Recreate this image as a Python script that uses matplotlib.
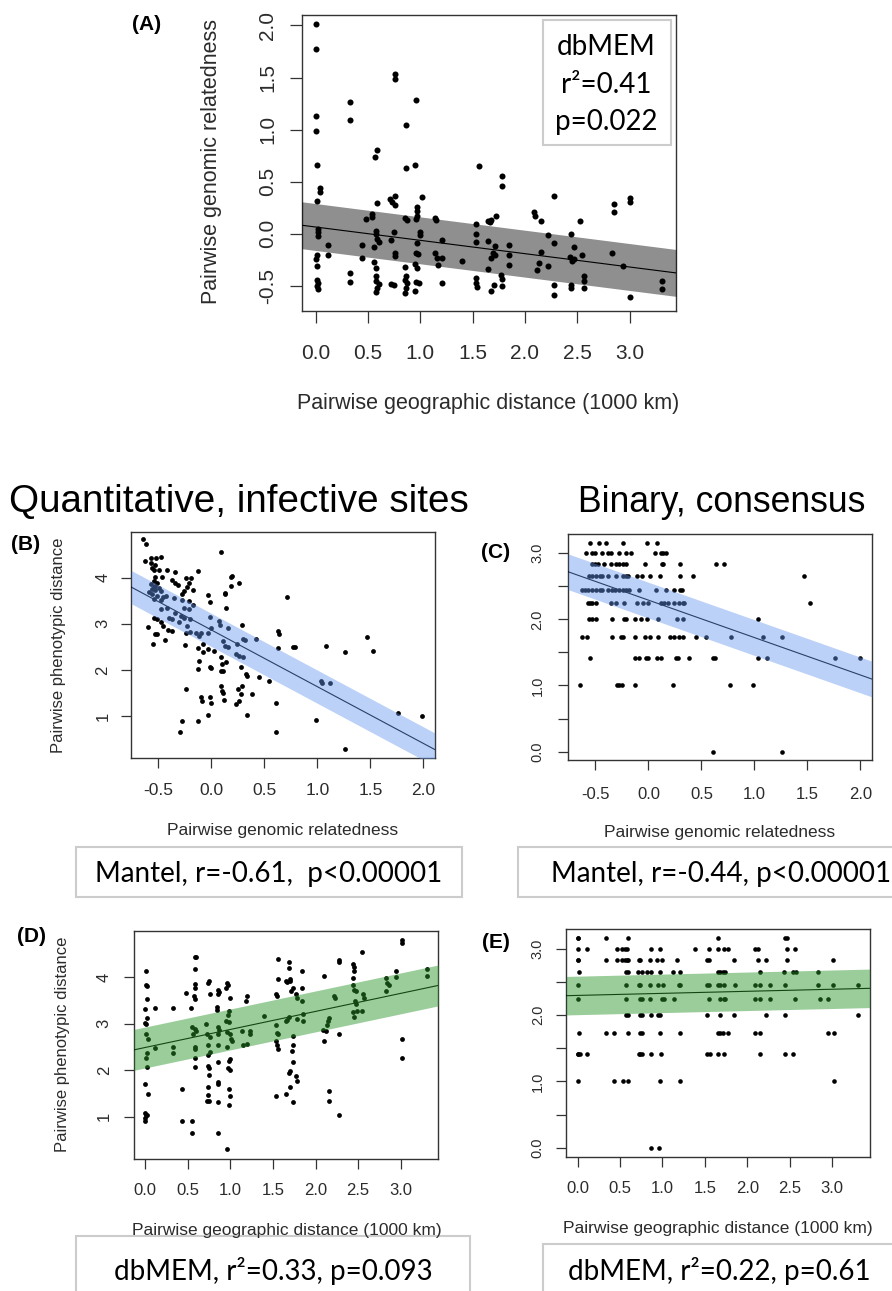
import numpy as np
import matplotlib
matplotlib.use('Agg')
import matplotlib.pyplot as plt
from matplotlib.patches import Rectangle

plt.rcParams['font.family'] = ['Liberation Sans', 'DejaVu Sans']
plt.rcParams['axes.unicode_minus'] = False

W, H = 892, 1291

# ---- panel A: geographic distance vs genomic relatedness
a_x = [0.00, 0.00, 0.00, 0.00, 0.01, 0.04, 0.04, 0.01, 0.02, 0.02, 0.02, 0.12, 0.12, 0.01, 0.00, 0.01,
       0.01, 0.02, 0.01, 0.02, 0.33, 0.33, 0.33, 0.33, 0.44, 0.44, 0.48, 0.54, 0.54, 0.57, 0.59, 0.59,
       0.58, 0.58, 0.59, 0.61, 0.56, 0.56, 0.58, 0.58, 0.58, 0.61, 0.59, 0.58, 0.71, 0.73, 0.76, 0.76,
       0.76, 0.76, 0.75, 0.72, 0.76, 0.76, 0.72, 0.75, 0.86, 0.86, 0.85, 0.87, 0.96, 0.95, 0.97, 0.97,
       0.97, 0.96, 1.02, 1.00, 1.00, 0.97, 0.96, 0.98, 0.95, 0.97, 0.85, 0.86, 0.85, 0.87, 0.86, 0.85,
       0.96, 0.99, 0.95, 1.14, 1.15, 1.21, 1.14, 1.16, 1.21, 1.17, 1.21, 1.40, 1.56, 1.53, 1.53, 1.53,
       1.53, 1.53, 1.54, 1.65, 1.68, 1.67, 1.72, 1.65, 1.71, 1.69, 1.68, 1.71, 1.65, 1.70, 1.68, 1.78,
       1.78, 1.77, 1.78, 1.78, 1.85, 1.85, 1.85, 2.09, 2.10, 2.15, 2.15, 2.13, 2.11, 2.22, 2.28, 2.28,
       2.22, 2.28, 2.28, 2.44, 2.47, 2.43, 2.47, 2.45, 2.53, 2.54, 2.44, 2.44, 2.56, 2.56, 2.56, 2.85,
       2.85, 2.83, 2.94, 3.00, 3.00, 3.00, 3.31, 3.31]
a_y = [2.01, 1.77, 1.13, 0.99, 0.66, 0.44, 0.40, 0.32, 0.05, 0.02, -0.02, -0.11, -0.20, -0.20, -0.24, -0.31,
       -0.44, -0.47, -0.50, -0.53, 1.27, 1.09, -0.38, -0.46, -0.11, -0.23, 0.14, 0.19, 0.16, 0.74, 0.80, 0.30,
       0.03, 0.00, -0.05, -0.08, -0.13, -0.27, -0.33, -0.40, -0.45, -0.48, -0.52, -0.56, 0.33, 0.31, 1.53, 1.49,
       0.36, 0.28, 0.02, -0.06, -0.18, -0.21, -0.48, -0.49, 1.04, 0.63, 0.15, 0.13, 1.28, 0.66, 0.26, 0.22,
       0.17, 0.14, 0.35, 0.02, -0.01, -0.09, -0.18, -0.19, -0.29, -0.33, -0.32, -0.40, -0.44, -0.47, -0.52, -0.57,
       -0.46, -0.47, -0.55, 0.15, 0.13, -0.06, -0.18, -0.23, -0.23, -0.30, -0.47, -0.26, 0.65, 0.09, 0.00, -0.08,
       -0.42, -0.47, -0.51, 0.12, 0.13, 0.11, 0.17, -0.07, -0.12, -0.18, -0.23, -0.20, -0.34, -0.49, -0.55, 0.56,
       0.46, -0.39, -0.43, -0.50, -0.11, -0.20, -0.30, 0.21, 0.17, 0.12, -0.17, -0.28, -0.35, -0.01, 0.36, -0.09,
       -0.31, -0.49, -0.59, 0.00, -0.13, -0.22, -0.24, -0.26, 0.12, -0.20, -0.49, -0.52, -0.40, -0.45, -0.52, 0.29,
       0.21, -0.18, -0.31, 0.34, 0.31, -0.61, -0.45, -0.53]
a_fit = (0.066, -0.128, 0.225)   # intercept, slope, band half width

# ---- panel B: genomic relatedness vs phenotypic distance (quantitative)
b_x = [-0.65, -0.62, -0.63, -0.57, -0.52, -0.48, -0.57, -0.53, -0.56, -0.54, -0.49, -0.42, -0.34, -0.13,
       -0.53, -0.47, -0.54, -0.51, -0.53, -0.37, -0.34, -0.32, -0.24, -0.19, -0.21, -0.23, -0.26, -0.17,
       -0.28, 0.09, 0.18, 0.19, 0.18, 0.26, 0.13, 0.13, -0.03, -0.01, 0.14, 0.71, -0.57, -0.54, -0.49,
       -0.56, -0.53, -0.48, -0.59, -0.56, -0.51, -0.46, -0.54, -0.48, -0.43, -0.35, -0.28, -0.21, -0.17,
       -0.26, -0.21, -0.34, -0.29, -0.42, -0.48, -0.40, -0.37, -0.31, -0.26, -0.20, -0.23, -0.60, -0.54,
       -0.51, -0.48, -0.46, -0.53, -0.51, -0.55, -0.44, -0.41, -0.37, -0.24, -0.20, -0.15, -0.10, -0.25,
       -0.12, -0.08, -0.03, 0.00, -0.01, 0.07, 0.08, 0.16, 0.24, 0.11, 0.13, 0.16, 0.23, 0.26, 0.30, 0.30,
       0.32, 0.42, 0.29, -0.13, -0.08, -0.12, -0.13, -0.03, 0.02, -0.01, 0.00, 0.09, 0.10, 0.14, 0.11,
       0.09, 0.28, 0.33, 0.34, 0.45, 0.54, 0.63, 0.64, 0.63, 0.77, 0.79, 1.08, 1.26, 1.47, 1.52, 1.03,
       1.04, 1.12, -0.24, -0.10, -0.09, -0.01, 0.00, -0.03, 0.09, 0.10, 0.11, 0.12, 0.25, 0.29, 0.28,
       0.26, 0.23, 0.38, 0.34, 0.61, -0.28, -0.13, -0.30, 0.61, 0.99, 1.26, 1.76, 1.99]
b_y = [4.83, 4.74, 4.36, 4.43, 4.42, 4.45, 4.32, 4.27, 4.22, 4.16, 4.16, 4.17, 4.13, 4.14,
       4.01, 4.01, 3.93, 3.89, 3.82, 3.94, 3.89, 3.84, 3.99, 3.99, 3.89, 3.80, 3.71, 3.73,
       3.64, 4.56, 4.01, 4.04, 3.81, 3.89, 3.67, 3.64, 3.62, 3.48, 3.34, 3.59, 3.86, 3.80, 3.78,
       3.75, 3.73, 3.71, 3.68, 3.64, 3.60, 3.57, 3.53, 3.51, 3.60, 3.55, 3.51, 3.49, 3.41,
       3.35, 3.31, 3.24, 3.17, 3.35, 3.31, 3.13, 3.10, 3.03, 3.13, 3.10, 2.95, 2.94, 3.13,
       3.11, 3.03, 2.95, 2.77, 2.77, 2.57, 2.64, 2.87, 2.85, 2.79, 2.83, 2.79, 2.81, 2.54,
       2.74, 2.57, 2.80, 2.90, 3.15, 3.05, 2.98, 2.90, 2.56, 2.63, 2.52, 2.50, 2.34, 2.30, 2.27, 2.68,
       2.65, 2.67, 2.98, 2.47, 2.38, 2.20, 2.02, 2.45, 2.41, 2.07, 2.04, 2.27, 2.12, 2.18, 1.98,
       1.97, 2.07, 1.91, 1.87, 1.85, 1.76, 2.85, 2.77, 2.47, 2.50, 2.50, 2.52, 2.38, 2.72, 2.40, 1.75,
       1.71, 1.71, 1.58, 1.42, 1.32, 1.42, 1.29, 1.03, 1.66, 1.55, 1.50, 1.34, 1.58, 1.66, 1.47,
       1.32, 1.26, 1.47, 1.03, 1.29, 0.90, 0.90, 0.65, 0.65, 0.91, 0.28, 1.07, 1.00]
b_fit = (2.865, -1.23, 0.36)

# ---- binary phenotype levels (panels C and E)
bin_levels = [3.16, 3.00, 2.83, 2.65, 2.45, 2.24, 2.00, 1.73, 1.41, 1.00, 0.00]

# panel C: genomic relatedness at each level
c_x_levels = [
    [-0.55, -0.47, -0.40, -0.24, -0.01, 0.08],
    [-0.59, -0.53, -0.50, -0.44, -0.38, -0.35, -0.28, -0.21, -0.16, 0.06, 0.12, 0.14, 0.17],
    [-0.53, -0.50, -0.48, -0.42, -0.35, -0.31, -0.28, -0.24, -0.21, -0.03, 0.13, 0.14, 0.30, 0.64, 0.71],
    [-0.56, -0.53, -0.49, -0.46, -0.44, -0.38, -0.31, -0.24, -0.21, -0.19, -0.11, -0.06, 0.01, 0.11,
     0.30, 0.42, 1.47],
    [-0.63, -0.60, -0.57, -0.53, -0.49, -0.46, -0.44, -0.38, -0.34, -0.32, -0.28, -0.24, -0.21, -0.18,
     -0.09, 0.07, 0.17, 0.24, 0.30, 0.32],
    [-0.57, -0.55, -0.53, -0.49, -0.35, -0.31, -0.23, -0.11, -0.05, 0.00, 0.12, 0.15, 0.18, 0.24, 0.29,
     0.33, 0.34, 1.52],
    [-0.56, -0.53, -0.49, -0.34, -0.23, -0.21, -0.13, -0.07, -0.01, 0.09, 0.27, 0.33, 1.03],
    [-0.63, -0.58, -0.34, -0.26, -0.24, -0.13, -0.03, 0.01, 0.09, 0.20, 0.24, 0.29, 0.33, 0.45, 0.54,
     0.78, 1.08, 1.26],
    [-0.55, -0.13, -0.09, -0.02, 0.00, 0.08, 0.12, 0.26, 0.28, 0.38, 0.61, 0.63, 1.03, 1.12, 1.76, 2.00],
    [-0.65, -0.30, -0.28, -0.25, -0.13, 0.23, 0.77, 0.99],
    [0.61, 1.26],
]
c_fit = (2.29, -0.566, 0.27)

# ---- panel D: geographic distance vs phenotypic distance (quantitative)
d_x = [0.01, 0.01, 0.02, 0.02, 0.00, 0.00, 0.01, 0.02, 0.01, 0.03, 0.02, 0.01, 0.02, 0.00, 0.03, 0.00,
       0.01, 0.02, 0.00, 0.00, 0.11, 0.11, 0.33, 0.33, 0.33, 0.43, 0.43, 0.48, 0.54, 0.55, 0.55,
       0.58, 0.60, 0.58, 0.58, 0.59, 0.57, 0.59, 0.55, 0.58, 0.60, 0.56, 0.59, 0.58, 0.58, 0.59,
       0.71, 0.73, 0.76, 0.74, 0.75, 0.76, 0.74, 0.76, 0.74, 0.74, 0.75, 0.75, 0.74, 0.74, 0.73, 0.75,
       0.84, 0.84, 0.86, 0.87, 0.86, 0.85, 0.87, 0.86, 0.86, 0.85, 0.86, 0.86, 0.86, 0.86,
       0.96, 0.97, 0.95, 1.00, 0.98, 0.97, 0.95, 0.98, 0.96, 0.99, 1.01, 1.02, 0.96, 0.99, 0.98, 0.97,
       0.99, 0.98, 0.99, 0.98, 0.96, 1.14, 1.15, 1.18, 1.20, 1.23, 1.23, 1.20, 1.39,
       1.53, 1.55, 1.56, 1.56, 1.53, 1.55, 1.56, 1.53, 1.55, 1.56, 1.53,
       1.65, 1.67, 1.65, 1.67, 1.69, 1.69, 1.70, 1.70, 1.73, 1.71, 1.70, 1.65, 1.69, 1.74, 1.73, 1.72,
       1.73, 1.70, 1.69, 1.73, 1.77, 1.78, 1.78, 1.77, 1.78, 1.84, 1.84, 1.84, 1.85, 1.85,
       2.10, 2.09, 2.12, 2.10, 2.14, 2.15, 2.16, 2.16, 2.16, 2.22, 2.23, 2.28, 2.28, 2.28, 2.28,
       2.44, 2.45, 2.45, 2.44, 2.44, 2.45, 2.47, 2.46, 2.47, 2.44, 2.45, 2.49, 2.54, 2.54, 2.56, 2.57,
       2.83, 2.84, 2.86, 2.83, 2.95, 2.95, 3.01, 3.02, 3.02, 3.02, 3.31, 3.31]
d_y = [4.14, 3.84, 3.81, 3.53, 3.32, 3.02, 3.00, 3.12, 2.78, 2.67, 2.37, 2.26, 2.06, 1.71, 1.49, 1.08,
       1.04, 1.03, 0.97, 0.91, 3.34, 2.48, 3.33, 2.51, 2.37, 1.59, 0.90, 3.67, 3.34, 0.90, 0.65,
       4.43, 4.43, 4.17, 3.86, 3.77, 3.59, 3.53, 2.92, 2.89, 2.85, 2.78, 2.49, 2.46, 2.26, 2.06,
       3.00, 2.78, 2.72, 3.88, 3.93, 3.63, 2.55, 2.39, 2.33, 2.10, 2.05, 1.90, 1.65, 1.47, 1.33, 1.33,
       3.37, 3.30, 3.73, 3.68, 3.64, 2.92, 2.87, 2.78, 2.54, 2.18, 1.75, 1.70, 1.31, 0.65,
       3.88, 3.83, 3.77, 3.55, 3.27, 3.18, 3.07, 3.04, 2.82, 2.78, 2.68, 2.62, 2.51, 2.25, 2.19, 2.05,
       2.01, 1.59, 1.44, 1.26, 0.30, 2.85, 2.55, 3.50, 3.59, 2.84, 2.77, 2.56, 3.16,
       3.63, 3.59, 4.39, 3.96, 2.97, 2.80, 2.77, 2.62, 2.55, 2.46, 1.44,
       3.05, 3.09, 3.93, 3.90, 4.32, 4.19, 3.96, 3.91, 3.78, 3.71, 1.65, 1.49, 3.14, 2.73, 2.54, 2.41,
       2.18, 1.99, 1.94, 1.31, 3.63, 3.55, 3.11, 1.87, 1.77, 4.13, 3.78, 3.50, 3.21, 3.05,
       4.02, 2.87, 2.85, 2.64, 2.98, 3.07, 3.12, 1.56, 1.34, 3.59, 3.55, 4.38, 4.34, 2.78, 1.03,
       4.29, 4.22, 4.14, 3.99, 3.83, 3.73, 3.70, 3.50, 3.43, 3.25, 3.14, 3.28, 3.28, 4.55, 3.63, 3.55,
       3.99, 3.88, 3.83, 3.71, 4.13, 4.01, 4.81, 4.74, 2.67, 2.26, 4.17, 4.02]
d_fit = (2.49, 0.388, 0.44)

# panel E: geographic distance at each binary level
e_x_levels = [
    [0.00, 0.01, 0.33, 0.59, 1.65, 2.44, 2.47],
    [0.00, 0.11, 0.47, 0.53, 0.56, 0.58, 0.87, 0.97, 1.38, 1.55, 1.65, 1.72, 1.77, 2.09, 2.13, 2.47, 2.56],
    [0.00, 0.01, 0.33, 0.47, 0.53, 0.56, 0.58, 0.60, 0.72, 0.74, 0.85, 0.94, 0.99, 1.17, 1.52, 1.55, 1.84,
     2.13, 2.22, 2.47, 3.01],
    [0.02, 0.57, 0.60, 0.71, 0.76, 0.82, 0.86, 0.97, 1.12, 1.21, 1.65, 1.68, 1.71, 1.74, 2.15, 2.43, 2.54,
     2.57, 2.83],
    [0.00, 0.57, 0.72, 0.74, 0.85, 0.95, 1.01, 1.19, 1.21, 1.52, 1.55, 1.65, 1.68, 1.72, 1.85, 2.09, 2.15,
     2.27, 2.44, 2.83, 3.01, 3.31],
    [0.01, 0.57, 0.74, 0.76, 0.85, 0.99, 1.02, 1.14, 1.55, 1.68, 1.72, 1.74, 2.09, 2.15, 2.27, 2.56, 2.86,
     2.95],
    [0.57, 0.60, 0.74, 0.76, 0.86, 0.95, 0.97, 1.53, 1.68, 1.84, 2.22, 2.44, 3.31],
    [0.02, 0.33, 0.43, 0.59, 0.74, 0.76, 0.97, 1.21, 1.65, 1.68, 1.71, 1.77, 2.09, 2.15, 2.95, 3.02],
    [0.00, 0.01, 0.03, 0.11, 0.72, 0.74, 0.76, 0.86, 0.98, 1.53, 1.56, 1.65, 1.72, 2.15, 2.44, 2.54],
    [0.00, 0.43, 0.54, 0.59, 0.97, 1.21, 3.02],
    [0.86, 0.96],
]
e_fit = (2.294, 0.031, 0.29)

geo_ticks = [0.0, 0.5, 1.0, 1.5, 2.0, 2.5, 3.0]
geo_labels = ['0.0', '0.5', '1.0', '1.5', '2.0', '2.5', '3.0']
rel_ticks = [-0.5, 0.0, 0.5, 1.0, 1.5, 2.0]
rel_labels = ['-0.5', '0.0', '0.5', '1.0', '1.5', '2.0']
quant_ticks = [1, 2, 3, 4]
quant_labels = ['1', '2', '3', '4']
bin_ticks = [0.0, 0.5, 1.0, 1.5, 2.0, 2.5, 3.0]
bin_labels = ['0.0', '', '1.0', '', '2.0', '', '3.0']
a_yticks = [-0.5, 0.0, 0.5, 1.0, 1.5, 2.0]
a_ylabels = ['-0.5', '0.0', '0.5', '1.0', '1.5', '2.0']


def flatten(levels, xs):
    x, y = [], []
    for lev, row in zip(levels, xs):
        x += row
        y += [lev] * len(row)
    return x, y


c_x, c_y = flatten(bin_levels, c_x_levels)
e_x, e_y = flatten(bin_levels, e_x_levels)

fig = plt.figure(figsize=(W / 100, H / 100), dpi=100)
tcol = '#2b2b2b'


def px_rect(l, t, r, b):
    return [l / W, 1 - b / H, (r - l) / W, (b - t) / H]


def panel(rect, x, y, fit, xlim, ylim, xt, xtl, yt, ytl, band, alpha, ms,
          xfs, yfs, xpad, ypad, tlen):
    ax = fig.add_axes(rect)
    ax.scatter(x, y, s=ms, c='black', linewidths=0, zorder=2)
    xx = np.array(xlim)
    yy = fit[0] + fit[1] * xx
    ax.plot(xx, yy, color='black', lw=0.8, zorder=3)
    ax.fill_between(xx, yy - fit[2], yy + fit[2], color=band, alpha=alpha,
                    lw=0, zorder=4)
    ax.set_xlim(xlim)
    ax.set_ylim(ylim)
    ax.set_xticks(xt)
    ax.set_xticklabels(xtl, fontsize=xfs, color=tcol)
    ax.set_yticks(yt)
    ax.set_yticklabels(ytl, fontsize=yfs, color=tcol, rotation=90, va='center')
    ax.tick_params(axis='x', length=tlen, width=0.9, color='#333333', pad=xpad)
    ax.tick_params(axis='y', length=tlen, width=0.9, color='#333333', pad=ypad)
    for s in ax.spines.values():
        s.set_color('#333333')
        s.set_linewidth(1.0)
    return ax


# (A)
panel(px_rect(301.7, 15, 676, 311), a_x, a_y, a_fit, (-0.132, 3.442), (-0.74, 2.10),
      geo_ticks, geo_labels, a_yticks, a_ylabels, 'black', 0.44, 19,
      15, 15, 15, 9, 8.5)
# (B)
panel(px_rect(131.3, 532, 434.7, 758), b_x, b_y, b_fit, (-0.756, 2.106), (0.09, 4.99),
      rel_ticks, rel_labels, quant_ticks, quant_labels, '#6495ed', 0.43, 12,
      12.5, 12, 11, 8, 7)
# (C)
panel(px_rect(568.3, 534, 871.7, 760), c_x, c_y, c_fit, (-0.756, 2.106), (-0.127, 3.29),
      rel_ticks, rel_labels, bin_ticks, bin_labels, '#6495ed', 0.43, 11,
      12, 10.5, 12.5, 10, 7)
# (D)
panel(px_rect(134, 931.3, 438.3, 1159), d_x, d_y, d_fit, (-0.132, 3.442), (0.09, 4.99),
      geo_ticks, geo_labels, quant_ticks, quant_labels, '#2a952a', 0.47, 12,
      12, 12, 10.5, 9, 7)
# (E)
panel(px_rect(566.3, 929.3, 869.7, 1157), e_x, e_y, e_fit, (-0.132, 3.442), (-0.14, 3.29),
      geo_ticks, geo_labels, bin_ticks, bin_labels, '#2a952a', 0.47, 11,
      12, 10.5, 10, 8.5, 7)


def ftext(px, py, s, **kw):
    kw.setdefault('zorder', 10)
    return fig.text(px / W, 1 - py / H, s, **kw)


# axis titles
ftext(488.6, 403, 'Pairwise geographic distance (1000 km)', fontsize=15.5, color=tcol,
      ha='center', va='center')
ftext(211, 162, 'Pairwise genomic relatedness', fontsize=15.5, color=tcol,
      ha='center', va='center', rotation=90)
ftext(283, 831, 'Pairwise genomic relatedness', fontsize=12.5, color=tcol, ha='center', va='center')
ftext(720, 833, 'Pairwise genomic relatedness', fontsize=12.5, color=tcol, ha='center', va='center')
ftext(58.5, 645.7, 'Pairwise phenotypic distance', fontsize=12, color=tcol,
      ha='center', va='center', rotation=90)
ftext(287, 1230, 'Pairwise geographic distance (1000 km)', fontsize=12.5, color=tcol,
      ha='center', va='center')
ftext(718, 1229, 'Pairwise geographic distance (1000 km)', fontsize=12.5, color=tcol,
      ha='center', va='center')
ftext(62, 1044.5, 'Pairwise phenotypic distance', fontsize=12, color=tcol,
      ha='center', va='center', rotation=90)

# panel letters
for lx, ly, lab in [(147, 24, '(A)'), (26, 544, '(B)'), (495.5, 553, '(C)'),
                    (31, 936, '(D)'), (496, 942, '(E)')]:
    ftext(lx, ly, lab, fontsize=15, fontweight='bold', ha='center', va='center')

# column headers
ftext(239, 512, 'Quantitative, infective sites', fontsize=27.8, ha='center', va='baseline')
ftext(721.5, 512, 'Binary, consensus', fontsize=25.6, ha='center', va='baseline')

# statistic boxes
boxes = [((542.8, 20, 670.8, 145), None),
         ((76, 847, 462, 897), (269, 882, 'Mantel, r=-0.61,  p<0.00001')),
         ((518, 847, 925, 897), (721, 882, 'Mantel, r=-0.44, p<0.00001')),
         ((76, 1236, 470, 1300), (273, 1280, 'dbMEM, r\u00b2=0.33, p=0.093')),
         ((543, 1244, 900, 1300), (719.7, 1280, 'dbMEM, r\u00b2=0.22, p=0.61'))]
for (l, t, r, b), txt in boxes:
    fig.patches.append(Rectangle((l / W, 1 - b / H), (r - l) / W, (b - t) / H,
                                 transform=fig.transFigure, facecolor='white',
                                 edgecolor='#cccccc', lw=1.5, zorder=5))
    if txt is not None:
        ftext(txt[0], txt[1], txt[2], fontsize=20, family='Lato', ha='center',
              va='baseline')

for yy, s in [(55, 'dbMEM'), (93, 'r\u00b2=0.41'), (130, 'p=0.022')]:
    ftext(606.3, yy, s, fontsize=20, family='Lato', ha='center', va='baseline')

fig.savefig('out.png', dpi=100)
